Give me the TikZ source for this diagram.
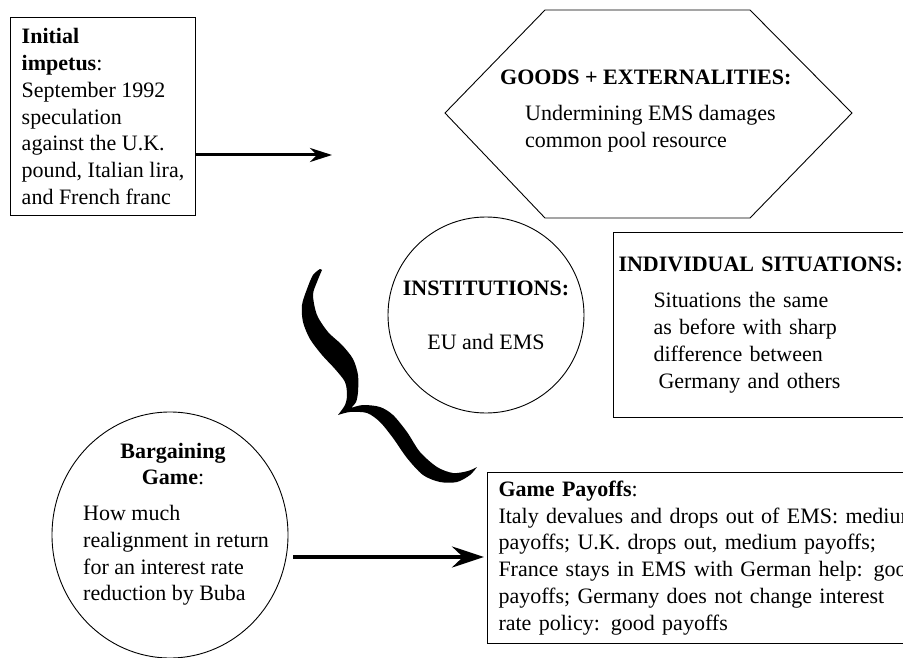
\documentclass[tikz,border=0pt]{standalone}
\usepackage{fontspec}
\setmainfont{Liberation Serif}
\usetikzlibrary{arrows.meta,shapes.geometric,positioning}

\begin{document}
\begin{tikzpicture}[x=1pt, y=-1pt, >={Stealth[length=22pt,width=14pt,inset=7pt]},
        every node/.style={font=\fontsize{22}{26.8}\selectfont}]
            \tikzstyle{box}=[draw, line width=1pt, anchor=north west, align=left, inner xsep=11pt]
            \tikzstyle{blob}=[draw, ellipse, line width=0.9pt, inner sep=0pt]
            \tikzstyle{txt}=[align=left, inner sep=0pt]
            \tikzstyle{arr}=[->, line width=3pt]

            \useasboundingbox[fill=white] (0,0) rectangle (903,658);

            % Riquadri
            \node[box, minimum width=185pt, minimum height=198pt] (impetus) at (10,17)
                {\textbf{Initial}\\\textbf{impetus}:\\September 1992\\speculation\\against the U.K.\\pound, Italian lira,\\and French franc};
            \node[box, inner xsep=5pt, text width=300pt, minimum height=185pt] (indiv) at (613,232)
                {\textbf{INDIVIDUAL SITUATIONS:}\\[9pt]\hspace*{35pt}Situations the same\\\hspace*{35pt}as before with sharp\\\hspace*{35pt}difference between\\\hspace*{40pt}Germany and others};
            \node[box, text width=450pt, minimum height=171pt] (payoffs) at (487,472)
                {\textbf{Game Payoffs}:\\Italy devalues and drops out of EMS: medium\\payoffs; U.K. drops out, medium payoffs;\\France stays in EMS with German help: good\\payoffs; Germany does not change interest\\rate policy: good payoffs};

            % Esagono
            \draw[line width=0.9pt] (445,113) -- (545,10) -- (750,10) -- (852,113) -- (750,218) -- (545,218) -- cycle;
            \node[txt, anchor=north west] (goods) at (500,70)
                {\textbf{GOODS + EXTERNALITIES:}\\[9pt]\hspace*{25pt}Undermining EMS damages\\\hspace*{25pt}common pool resource};

            % Cerchi
            \node[blob, minimum size=196pt] (inst) at (486,315) {};
            \node[txt, align=center] (instT) at (inst.center) {\textbf{INSTITUTIONS:}\\[27pt]EU and EMS};
            \node[blob, minimum width=236pt, minimum height=246pt] (barg) at (170,535) {};
            \node[txt, align=center] (bargT) at (173,464) {\textbf{Bargaining}\\\textbf{Game}:};
            \node[txt, anchor=north west] (bargB) at (83,505)
                {How much\\realignment in return\\for an interest rate\\reduction by Buba};

            % Frecce
            \coordinate (gtip) at (332,155);
            \coordinate (btip) at (484,557);
            \draw[arr] (impetus.east |- gtip) -- (gtip);
            \draw[arr, line width=4pt, -{Stealth[length=32pt,width=21pt,inset=11pt]}] ([xshift=5pt]barg.east |- btip) -- (btip);

            % Svolazzo
            \fill plot[smooth] coordinates {(320,269) (313,275) (307,289) (302,305) (303,322) (310,339) (322,355) (335,369) (345,382) (347,395) (345,405) (338,415)}
                -- plot[smooth] coordinates {(338,415) (350,412) (367,413) (380,422) (393,438) (407,458) (423,475) (440,482) (457,482) (470,475) (477,467)}
                -- plot[smooth] coordinates {(477,467) (468,471) (453,473) (437,467) (420,452) (407,432) (393,415) (380,407) (363,405) (351,408)}
                -- plot[smooth] coordinates {(351,408) (356,402) (358,392) (358,375) (353,359) (342,345) (328,332) (317,315) (313,295) (317,282) (322,270)} -- cycle;
        \end{tikzpicture}
\end{document}
